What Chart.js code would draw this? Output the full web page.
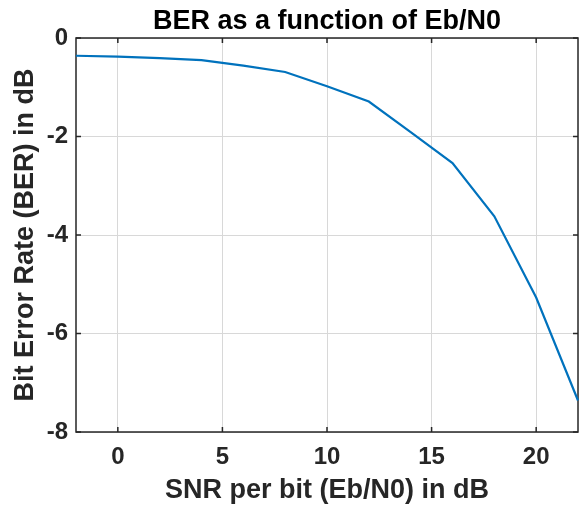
<!DOCTYPE html>
<html lang="en">

<head>
  <meta charset="UTF-8" />
  <title>BER as a function of Eb/N0</title>
  <script src="https://cdn.jsdelivr.net/npm/chart.js@4.4.1/dist/chart.umd.min.js"></script>
  <style>
    body { margin: 0; background: #fff; }
  </style>
</head>

<body>
  <canvas id="berChart" width="584" height="508"></canvas>

  <script>
    // SNR per bit (dB) and measured BER (dB)
    const snrDb = [-2, 0, 2, 4, 6, 8, 10, 12, 14, 16, 18, 20, 22];
    const berDb = [-0.36, -0.38, -0.41, -0.45, -0.56, -0.69, -0.98, -1.29, -1.91, -2.54, -3.62, -5.27, -7.36];

    const xTicks = [0, 5, 10, 15, 20];
    const yTicks = [-8, -6, -4, -2, 0];

    const axisColor = "#262626";
    const fontFamily = "'Liberation Sans', Arial, sans-serif";

    // matlab style box with inward ticks
    const boxPlugin = {
      id: "box",
      beforeDatasetsDraw(chart) {
        const { ctx, chartArea: a, scales } = chart;
        ctx.save();
        ctx.strokeStyle = axisColor;
        ctx.lineWidth = 1.5;
        ctx.beginPath();
        scales.x.ticks.forEach((t) => {
          const px = scales.x.getPixelForValue(t.value);
          ctx.moveTo(px, a.bottom); ctx.lineTo(px, a.bottom - 5);
          ctx.moveTo(px, a.top); ctx.lineTo(px, a.top + 5);
        });
        scales.y.ticks.forEach((t) => {
          const py = scales.y.getPixelForValue(t.value);
          ctx.moveTo(a.left, py); ctx.lineTo(a.left + 5, py);
          ctx.moveTo(a.right, py); ctx.lineTo(a.right - 5, py);
        });
        ctx.stroke();
        ctx.strokeRect(a.left, a.top, a.right - a.left, a.bottom - a.top);
        ctx.restore();
      },
    };

    const chart = new Chart(document.getElementById("berChart").getContext("2d"), {
      type: "line",
      data: {
        datasets: [
          {
            data: snrDb.map((x, i) => ({ x: x, y: berDb[i] })),
            borderColor: "#0072BD",
            borderWidth: 2.2,
            pointRadius: 0,
            tension: 0,
            clip: false,
          },
        ],
      },
      options: {
        responsive: false,
        animation: false,
        layout: { padding: { left: 0, right: 6, top: 0, bottom: 0 } },
        plugins: {
          legend: { display: false },
          tooltip: { enabled: false },
          title: {
            display: true,
            text: "BER as a function of Eb/N0",
            fullSize: false,
            color: "#000",
            font: { family: fontFamily, size: 27, weight: "bold" },
            padding: { top: 5, bottom: 0.6 },
          },
        },
        scales: {
          x: {
            type: "linear",
            min: -2,
            max: 22,
            afterFit: (s) => { s.height = 76; },
            afterBuildTicks: (s) => { s.ticks = xTicks.map((v) => ({ value: v })); },
            grid: { color: "#d8d8d8", lineWidth: 1, drawTicks: false },
            border: { display: false },
            ticks: {
              color: axisColor,
              padding: 11,
              maxRotation: 0,
              font: { family: fontFamily, size: 24, weight: "bold" },
            },
            title: {
              display: true,
              text: "SNR per bit (Eb/N0) in dB",
              color: axisColor,
              font: { family: fontFamily, size: 27, weight: "bold" },
              padding: { top: 0, bottom: 1 },
            },
          },
          y: {
            min: -8,
            max: 0,
            afterFit: (s) => { s.width = 76; },
            afterBuildTicks: (s) => { s.ticks = yTicks.map((v) => ({ value: v })); },
            grid: { color: "#d8d8d8", lineWidth: 1, drawTicks: false },
            border: { display: false },
            ticks: {
              color: axisColor,
              padding: 8,
              font: { family: fontFamily, size: 24, weight: "bold" },
            },
            title: {
              display: true,
              text: "Bit Error Rate (BER) in dB",
              color: axisColor,
              font: { family: fontFamily, size: 27, weight: "bold" },
              padding: { top: 9, bottom: 0 },
            },
          },
        },
      },
      plugins: [boxPlugin],
    });
  </script>
</body>

</html>
